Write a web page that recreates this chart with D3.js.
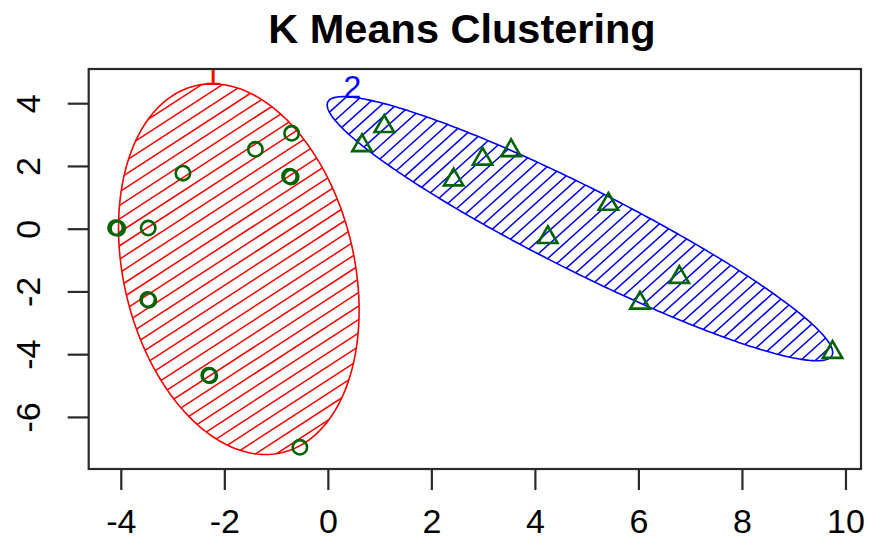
<!DOCTYPE html>
<html>
<head>
<meta charset="utf-8">
<script src="https://cdn.jsdelivr.net/npm/d3@7"></script>
<style>
  body { margin: 0; background: #ffffff; }
  svg { display: block; }
  text { font-family: "Liberation Sans", Arial, Helvetica, sans-serif; }
</style>
</head>
<body>
<svg id="chart" width="869" height="543"></svg>
<script>
// ---- data -------------------------------------------------------------
const titleText = "K Means Clustering";
const clusterNames = ["1", "2"];
const clusterColors = ["#ff0000", "#0000ff"];
const pointColor = "#006400";

// cluster 1 (circles): component scores
const clus1X = [-4.10, -4.06, -3.47, -2.80, -1.40, -0.70, -0.74, -0.71, -3.48, -3.46, -2.30, -2.28, -0.54];
const clus1Y = [0.03, 0.01, 0.02, 1.77, 2.53, 3.04, 1.67, 1.65, -2.26, -2.28, -4.67, -4.69, -6.97];

// cluster 2 (triangles): component scores
const clus2X = [1.09, 0.66, 2.99, 3.54, 2.43, 4.25, 5.42, 6.79, 6.03, 9.75];
const clus2Y = [3.26, 2.65, 2.22, 2.49, 1.56, -0.28, 0.78, -1.55, -2.37, -3.94];

// spanning ellipse of each cluster: centre and shape matrix (data units)
const ellCenterX = [-1.72, 4.87];
const ellCenterY = [-1.29, 0.00];
const ellVarX = [5.40, 23.84];
const ellCovXY = [-3.05, -19.25];
const ellVarY = [34.90, 17.72];

const xTicks = [-4, -2, 0, 2, 4, 6, 8, 10];
const yTicks = [-6, -4, -2, 0, 2, 4];
const xDomain = [-4.62, 10.30];
const yDomain = [-7.66, 5.09];

// shading of each ellipse: line angle (degrees) and spacing (px)
const hatchAngle = [33, 42];
const hatchGap = [11.3, 9.8];

// ---- layout -----------------------------------------------------------
const plot = { left: 88.7, right: 861, top: 69, bottom: 469 };
const svg = d3.select("#chart");
const defs = svg.append("defs");

const x = d3.scaleLinear().domain(xDomain).range([plot.left, plot.right]);
const y = d3.scaleLinear().domain(yDomain).range([plot.bottom, plot.top]);

defs.append("clipPath").attr("id", "plot-clip")
  .append("rect")
  .attr("x", plot.left).attr("y", plot.top)
  .attr("width", plot.right - plot.left).attr("height", plot.bottom - plot.top);

// boundary of ellipse i in data units, mapped to pixels
function ellipseOutline(i, steps = 400) {
  const l11 = Math.sqrt(ellVarX[i]);
  const l21 = ellCovXY[i] / l11;
  const l22 = Math.sqrt(ellVarY[i] - l21 * l21);
  return d3.range(steps + 1).map(k => {
    const t = 2 * Math.PI * k / steps;
    const c = Math.cos(t), s = Math.sin(t);
    return [x(ellCenterX[i] + l11 * c), y(ellCenterY[i] + l21 * c + l22 * s)];
  });
}

// ---- plot contents ----------------------------------------------------
const gPlot = svg.append("g").attr("clip-path", "url(#plot-clip)");
const pathLine = d3.line();

clusterNames.forEach((name, i) => {
  const outline = ellipseOutline(i);
  const clipId = "shade-" + i;
  defs.append("clipPath").attr("id", clipId)
    .append("path").attr("d", pathLine(outline) + "Z");

  // shading lines
  const a = hatchAngle[i] * Math.PI / 180;
  const ux = Math.cos(a), uy = -Math.sin(a);
  const nx = -uy, ny = ux;
  const proj = outline.map(p => p[0] * nx + p[1] * ny);
  const along = outline.map(p => p[0] * ux + p[1] * uy);
  const aMin = d3.min(along) - 10, aMax = d3.max(along) + 10;
  const offsets = d3.range(Math.ceil(d3.min(proj) / hatchGap[i]) * hatchGap[i], d3.max(proj), hatchGap[i]);
  gPlot.append("g").attr("clip-path", `url(#${clipId})`)
    .selectAll("line").data(offsets).join("line")
    .attr("x1", s => s * nx + aMin * ux).attr("y1", s => s * ny + aMin * uy)
    .attr("x2", s => s * nx + aMax * ux).attr("y2", s => s * ny + aMax * uy)
    .attr("stroke", clusterColors[i]).attr("stroke-width", 1.5);

  gPlot.append("path")
    .attr("d", pathLine(outline) + "Z")
    .attr("fill", "none")
    .attr("stroke", clusterColors[i])
    .attr("stroke-width", 1.6);

  // cluster label above the highest point of the ellipse
  const top = outline.reduce((m, p) => (p[1] < m[1] ? p : m), outline[0]);
  gPlot.append("text")
    .attr("x", top[0] + (i === 1 ? 9 : 0)).attr("y", top[1] + 1)
    .attr("text-anchor", "middle")
    .attr("font-size", 32)
    .attr("fill", clusterColors[i])
    .text(name);
});

// points
const R = 7.2;
const pointsG = gPlot.append("g")
  .attr("fill", "none").attr("stroke", pointColor).attr("stroke-width", 2.6);

pointsG.selectAll("circle").data(d3.range(clus1X.length)).join("circle")
  .attr("cx", k => x(clus1X[k])).attr("cy", k => y(clus1Y[k])).attr("r", R);

const triPath = (px, py) => {
  const r = 1.5551 * R, xc = 1.3468 * R, yc = 0.7776 * R;
  return `M${px},${py - r}L${px + xc},${py + yc}L${px - xc},${py + yc}Z`;
};
pointsG.selectAll("path").data(d3.range(clus2X.length)).join("path")
  .attr("d", k => triPath(x(clus2X[k]), y(clus2Y[k])));

// ---- axes & frame -----------------------------------------------------
const axisColor = "#2a2a2a";
const fmt = d => String(d);
const gx = svg.append("g")
  .attr("transform", `translate(0,${plot.bottom})`)
  .call(d3.axisBottom(x).tickValues(xTicks).tickSize(21).tickPadding(19).tickFormat(fmt));
const gy = svg.append("g")
  .attr("transform", `translate(${plot.left},0)`)
  .call(d3.axisLeft(y).tickValues(yTicks).tickSize(21).tickFormat(fmt));

[gx, gy].forEach(g => {
  g.select(".domain").remove();
  g.selectAll(".tick line").attr("stroke", axisColor).attr("stroke-width", 2.2);
  g.selectAll(".tick text").attr("fill", "#000").attr("font-size", 34)
    .style("font-family", '"Liberation Sans", Arial, Helvetica, sans-serif');
});
gy.selectAll(".tick text")
  .attr("x", 0).attr("dy", 0)
  .attr("text-anchor", "middle")
  .attr("transform", "translate(-49,0) rotate(-90)");

svg.append("rect")
  .attr("x", plot.left).attr("y", plot.top)
  .attr("width", plot.right - plot.left).attr("height", plot.bottom - plot.top)
  .attr("fill", "none").attr("stroke", axisColor).attr("stroke-width", 2.2);

svg.append("text")
  .attr("x", 462).attr("y", 43)
  .attr("text-anchor", "middle")
  .attr("font-size", 41.5).attr("font-weight", "bold")
  .attr("fill", "#000")
  .text(titleText);
</script>
</body>
</html>
